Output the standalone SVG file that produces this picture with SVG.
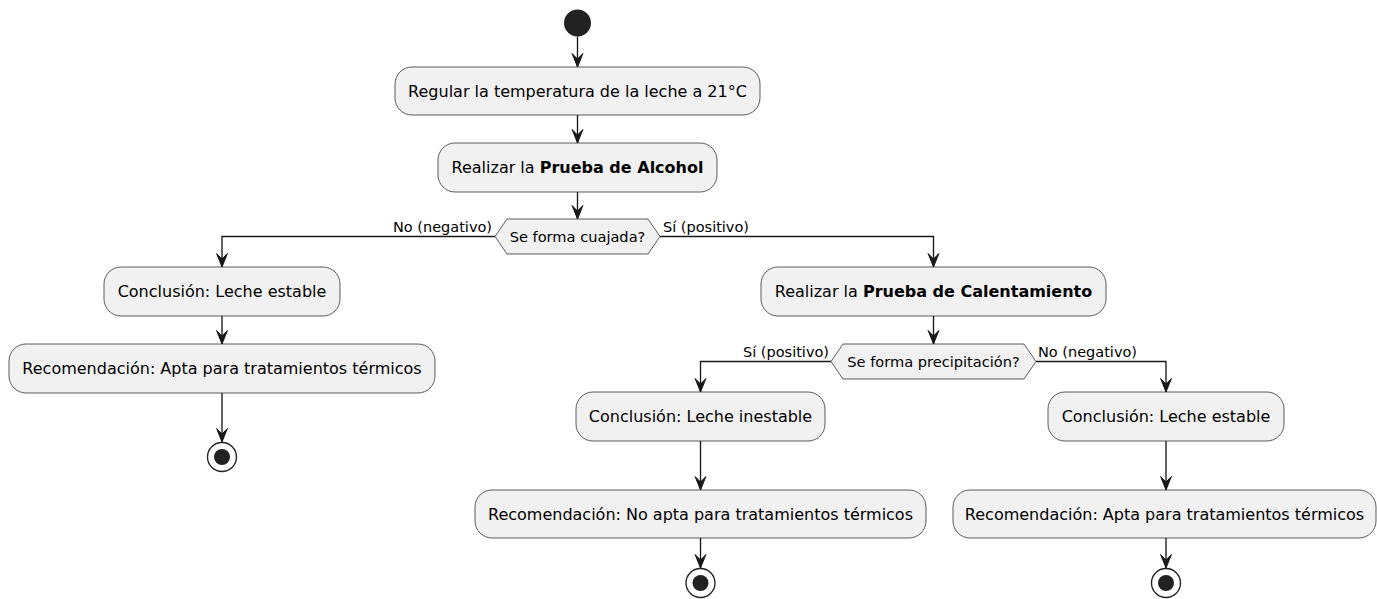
<svg xmlns="http://www.w3.org/2000/svg" width="1377" height="599" viewBox="0 0 1377 599">
<defs>
<style>
.box{fill:#F1F1F1;stroke:#181818;stroke-width:0.7}
.t{font-family:"DejaVu Sans",sans-serif;font-size:16px;fill:#000;text-anchor:middle}
.d{font-family:"DejaVu Sans",sans-serif;font-size:14.6px;fill:#000;text-anchor:middle}
.l{font-family:"DejaVu Sans",sans-serif;font-size:14.5px;fill:#000}
.b{font-weight:bold}
.edge{fill:none;stroke:#181818;stroke-width:1.35;marker-end:url(#ah)}
.start{fill:#222222}
.endo{fill:none;stroke:#222222;stroke-width:1.35}
.endi{fill:#222222}
</style>
<marker id="ah" markerUnits="userSpaceOnUse" markerWidth="17" markerHeight="14" viewBox="-15.5 -7 17 14" refX="0" refY="0" orient="auto">
<polygon points="0,0 -13.5,-5.4 -8,0 -13.5,5.4" fill="#181818" stroke="#181818" stroke-width="1" stroke-linejoin="miter"/>
</marker>
</defs>
<g id="connectors">
<path class="edge" d="M577.5,36.5 V67"/>
<path class="edge" d="M577.5,115 V143"/>
<path class="edge" d="M577.5,192 V219"/>
<path class="edge" d="M495,236.5 H222 V267"/>
<path class="edge" d="M660,236.5 H933.5 V267"/>
<path class="edge" d="M222,316 V344"/>
<path class="edge" d="M222,393 V442"/>
<path class="edge" d="M933.5,316 V344"/>
<path class="edge" d="M831,361.5 H700.5 V392"/>
<path class="edge" d="M1036,361.5 H1166 V392"/>
<path class="edge" d="M700.5,441 V490"/>
<path class="edge" d="M700.5,538 V568"/>
<path class="edge" d="M1166,441 V490"/>
<path class="edge" d="M1166,538 V568"/>
<text class="l" x="492" y="232" text-anchor="end">No (negativo)</text>
<text class="l" x="663" y="232">Sí (positivo)</text>
<text class="l" x="829" y="357" text-anchor="end">Sí (positivo)</text>
<text class="l" x="1038" y="357">No (negativo)</text>
</g>
<g id="start"><circle class="start" cx="577.5" cy="23" r="13.5"/></g>
<g id="regular"><rect class="box" x="395" y="67" width="365" height="48" rx="17"/><text class="t" x="577.5" y="97">Regular la temperatura de la leche a 21°C</text></g>
<g id="alcohol"><rect class="box" x="438" y="143" width="279" height="49" rx="17"/><text class="t" x="577.5" y="173">Realizar la <tspan class="b">Prueba de Alcohol</tspan></text></g>
<g id="cuajada"><polygon class="box" points="495,236.5 507,219 648,219 660,236.5 648,254 507,254"/><text class="d" x="577.5" y="241.5">Se forma cuajada?</text></g>
<g id="estable1"><rect class="box" x="104" y="267" width="236" height="49" rx="17"/><text class="t" x="222" y="297">Conclusión: Leche estable</text></g>
<g id="apta1"><rect class="box" x="9" y="344" width="426" height="49" rx="17"/><text class="t" x="222" y="374">Recomendación: Apta para tratamientos térmicos</text></g>
<g id="end1"><circle class="endo" cx="222" cy="457" r="14.5"/><circle class="endi" cx="222" cy="457" r="8"/></g>
<g id="calentamiento"><rect class="box" x="761" y="267" width="345" height="49" rx="17"/><text class="t" x="933.5" y="297">Realizar la <tspan class="b">Prueba de Calentamiento</tspan></text></g>
<g id="precipitacion"><polygon class="box" points="831,361.5 843,344 1024,344 1036,361.5 1024,379 843,379"/><text class="d" x="933.5" y="366.5">Se forma precipitación?</text></g>
<g id="inestable"><rect class="box" x="576" y="392" width="249" height="49" rx="17"/><text class="t" x="700.5" y="422">Conclusión: Leche inestable</text></g>
<g id="noapta"><rect class="box" x="475" y="490" width="451" height="48" rx="17"/><text class="t" x="700.5" y="520">Recomendación: No apta para tratamientos térmicos</text></g>
<g id="end2"><circle class="endo" cx="700.5" cy="583" r="14.5"/><circle class="endi" cx="700.5" cy="583" r="8"/></g>
<g id="estable2"><rect class="box" x="1048" y="392" width="236" height="49" rx="17"/><text class="t" x="1166" y="422">Conclusión: Leche estable</text></g>
<g id="apta2"><rect class="box" x="953" y="490" width="423" height="48" rx="17"/><text class="t" x="1164.5" y="520">Recomendación: Apta para tratamientos térmicos</text></g>
<g id="end3"><circle class="endo" cx="1166" cy="583" r="14.5"/><circle class="endi" cx="1166" cy="583" r="8"/></g>
</svg>
